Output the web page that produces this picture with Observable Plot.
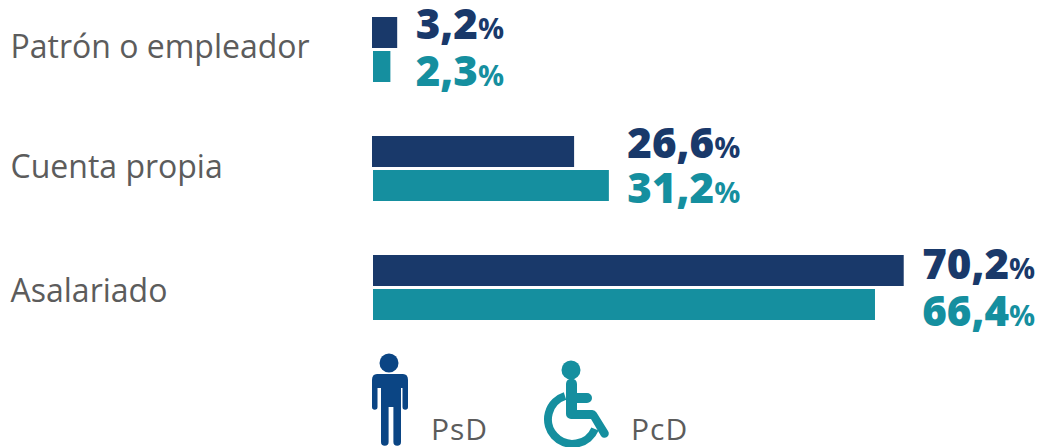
<!DOCTYPE html>
<html><head><meta charset="utf-8">
<script src="https://cdn.jsdelivr.net/npm/d3@7"></script>
<script src="https://cdn.jsdelivr.net/npm/@observablehq/plot@0.6"></script>
<style>
html,body{margin:0;padding:0;background:#fff;overflow:hidden}
#chart{position:relative;width:1049px;height:447px}
#chart svg.plot{display:block;position:absolute;left:0;top:0}
.icon{position:absolute;left:0;top:0}
.leg{position:absolute;font-family:"Open Sans",sans-serif;font-size:30px;color:#5c5c5c;letter-spacing:1px;line-height:1}
</style></head><body>
<div id="chart"></div>
<script>
const categories = ["Patrón o empleador","Cuenta propia","Asalariado"];
const seriesNames = ["PsD","PcD"];
const psd = [3.2,26.6,70.2];
const pcd = [2.3,31.2,66.4];
const colors = ["#19396a","#158f9f"];
const fmt = v => v.toFixed(1).replace(".",",") + "%";

const rows = categories.flatMap((c,i)=>[
  {cat:c,s:"PsD",v:psd[i],pos:Math.max(psd[i],pcd[i])},
  {cat:c,s:"PcD",v:pcd[i],pos:Math.max(psd[i],pcd[i])}
]);
const labelMark = (s,c,dy) => Plot.text(rows.filter(d=>d.s===s&&d.cat===c),{
  x:"pos",y:"s",fy:"cat",text:d=>fmt(d.v),fill:colors[seriesNames.indexOf(s)],
  textAnchor:"start",dx:18,dy,fontSize:42,fontWeight:800,className:"val",
  fontFamily:"Open Sans, sans-serif"
});
const plot = Plot.plot({
  width:1049,height:340,
  marginTop:17,marginBottom:20,marginLeft:0,marginRight:0,
  x:{domain:[0,100],range:[373,1129],axis:null},
  fy:{domain:categories,paddingInner:54/119,paddingOuter:0,axis:null},
  y:{domain:seriesNames,paddingInner:3/34,paddingOuter:0,axis:null},
  color:{domain:seriesNames,range:colors},
  marks:[
    Plot.barX(rows.filter(d=>d.s==="PsD"&&d.cat!=="Asalariado"),{x:"v",y:"s",fy:"cat",fill:"s",insetLeft:-1}),
    Plot.barX(rows.filter(d=>d.s==="PcD"||d.cat==="Asalariado"),{x:"v",y:"s",fy:"cat",fill:"s"}),
    ...categories.flatMap((c,i)=>[
      labelMark("PsD",c,[-7,-7,-5][i]),
      labelMark("PcD",c,[6,4,8][i])
    ]),
    ...categories.map((c,i)=>Plot.text([c],{fy:d=>d,text:d=>d,frameAnchor:"left",dx:10,dy:[-2,-1,4][i],
      textAnchor:"start",fontSize:32,fill:"#5c5c5c",fontFamily:"Open Sans, sans-serif",
      style:{letterSpacing:"1.5px"}}))
  ]
});
d3.select(plot).selectAll(".val text").each(function(){
  const t=this.textContent; if(!t.endsWith("%"))return;
  this.textContent=t.slice(0,-1);
  d3.select(this).append("tspan").attr("font-size",29).attr("font-weight",700).text("%");
});
const chart=document.getElementById("chart");
chart.appendChild(plot);
const ns="http://www.w3.org/2000/svg";
chart.insertAdjacentHTML("beforeend",`<svg class="icon" width="1049" height="447" xmlns="${ns}">
 <g fill="#0b4584">
  <circle cx="389" cy="363" r="9.5"/>
  <path d="M377 374H403Q408 374 408 380V407a2.7 2.7 0 0 1-5.5 0V388H401V442a3.8 3.8 0 0 1-7.6 0V407H388.6V442a3.8 3.8 0 0 1-7.6 0V388H377.5V407a2.7 2.7 0 0 1-5.5 0V380Q372 374 377 374Z"/>
 </g>
 <g fill="#158f9f" stroke="#158f9f">
  <circle cx="571" cy="370" r="9.5" stroke="none"/>
  <path d="M566 384a5.5 5.5 0 0 1 11 0V393H587a5 5 0 0 1 0 10H577V410H592a5 5 0 0 1 4.5 2.5L608 431a4 4 0 0 1-7 5L591 419H571a5 5 0 0 1-5-5Z" stroke="none"/>
  <path d="M565 396A24.5 24.5 0 1 0 595 429" fill="none" stroke-width="8"/>
 </g>
</svg>
<div class="leg" style="left:431px;top:414px">${seriesNames[0]}</div>
<div class="leg" style="left:631px;top:414px">${seriesNames[1]}</div>`);
</script>
</body></html>
